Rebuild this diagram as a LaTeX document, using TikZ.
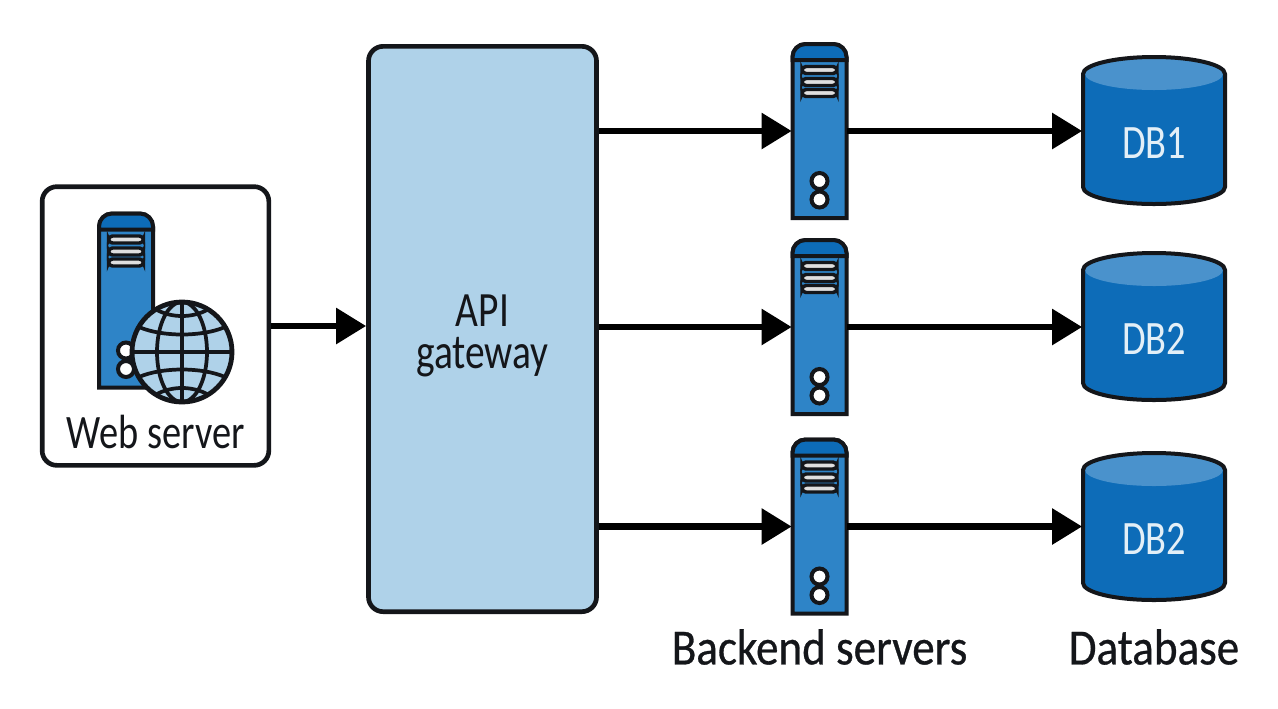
\documentclass[tikz,border=0pt]{standalone}
\usepackage{fontspec}
\setmainfont{Carlito}[FakeStretch=0.8]
\newfontfamily\headfont{Carlito}[FakeStretch=0.89,FakeBold=0.6]
\usetikzlibrary{arrows.meta}
\definecolor{gwblue}{RGB}{175,210,233}
\definecolor{srvblue}{RGB}{46,132,199}
\definecolor{capblue}{RGB}{13,108,184}
\definecolor{dbtop}{RGB}{74,146,204}
\definecolor{inkdark}{RGB}{20,22,26}
\tikzset{every picture/.style={line width=0.75pt},
	box/.style={draw=inkdark,line width=3.5pt,rounded corners=11pt,inner sep=0pt},
	label/.style={font=\fontsize{36}{36}\selectfont,text=inkdark,inner sep=0pt},
	headlabel/.style={font=\headfont\fontsize{38}{38}\selectfont,text=inkdark,inner sep=0pt},
	dblabel/.style={font=\fontsize{36}{36}\selectfont,text=gwblue!35!white,inner sep=0pt},
	link/.style={draw=black,line width=5pt,-{Triangle[length=22.5pt,width=26pt]}},
	outline/.style={draw=inkdark,line width=3pt},
	grid/.style={draw=inkdark,line width=2.8pt}
}
% server tower: name, centre x, centre y
\newcommand{\srvnode}[3]{
	\node[minimum width=41pt,minimum height=131pt,inner sep=0pt] (#1) at (#2,#3) {};
	\begin{scope}[shift={(#2,#3)}]
		\draw[outline,fill=srvblue] (-27,87) -- (-27,-74) arc (180:270:13) -- (14,-87) arc (270:360:13) -- (27,87) -- cycle;
		\draw[outline,fill=capblue] (-27,-71) -- (-27,-74) arc (180:270:13) -- (14,-87) arc (270:360:13) -- (27,-71) -- cycle;
		\foreach \rowy in {-61,-49,-38}
			\draw[draw=inkdark,line width=2.6pt,fill=gray!25!white,rounded corners=3pt] (-17.5,\rowy-3.5) rectangle (17.5,\rowy+3.5);
		\draw[outline,fill=white] (0,50) circle [radius=8];
		\draw[outline,fill=white] (0,68.5) circle [radius=8];
	\end{scope}
}
% database drum: name, centre x, top y, text
\newcommand{\dbnode}[4]{
	\fill[capblue] (#2-71,#3+17) arc (180:360:71 and 17) -- (#2+71,#3+130) arc (0:180:71 and 17) -- cycle;
	\fill[dbtop] (#2,#3+17) ellipse [x radius=69, y radius=16];
	\draw[outline] (#2-71,#3+130) -- (#2-71,#3+17) arc (180:360:71 and 17) -- (#2+71,#3+130) arc (0:180:71 and 17) -- cycle;
	\node[minimum width=107pt,minimum height=110pt,inner sep=0pt] (#1) at (#2,#3+74) {};
	\node[dblabel] (#1text) at (#2,#3+86) {#4};
}
\begin{document}
\begin{tikzpicture}[x=0.75pt,y=0.75pt,yscale=-1,xscale=1]
	\useasboundingbox (0,0) rectangle (1278,708);
	\fill[white] (0,0) rectangle (1278,708);

	%Shape: Web server box
	\node[box,fill=white,minimum width=170pt,minimum height=209pt] (webbox) at (155.5,326) {};
	%Shape: API gateway
	\node[box,fill=gwblue,minimum width=171pt,minimum height=424pt] (gateway) at (482.5,329) {};
	% Text Node
	\node[label,align=center,font=\fontsize{37}{32}\selectfont] (gatewaytext) at (482.5,336) {API\\gateway};

	%Shape: Web server icon
	\srvnode{websrv}{126}{300.5}
	%Shape: Globe
	\node[circle,draw=inkdark,line width=3.6pt,fill=gwblue,minimum size=75pt,inner sep=0pt] (globe) at (182,352) {};
	\begin{scope}[shift={(182,352)}]
		\draw[grid] (-50,0) -- (50,0);
		\draw[grid] (0,-50) -- (0,50);
		\draw[grid] (0,0) ellipse [x radius=25, y radius=50];
		\draw[grid] (-43,-25) .. controls (-20,-15) and (20,-15) .. (43,-25);
		\draw[grid] (-43,25) .. controls (-20,15) and (20,15) .. (43,25);
		\draw[grid] (-25,-42) .. controls (-10,-34) and (10,-34) .. (25,-42);
		\draw[grid] (-25,42) .. controls (-10,34) and (10,34) .. (25,42);
	\end{scope}
	% Text Node
	\node[label] (webtext) at (155.5,432) {Web server};

	%Shape: Backend servers
	\srvnode{srva}{819.5}{131}
	\srvnode{srvb}{819.5}{327}
	\srvnode{srvc}{819.5}{526.5}

	%Shape: Databases
	\dbnode{dba}{1154}{57}{DB1}
	\dbnode{dbb}{1154}{253}{DB2}
	\dbnode{dbc}{1154}{453}{DB2}

	%Straight Lines
	\draw[link] (webbox.east) -- (gateway.west |- webbox.east);
	\foreach \srv/\db in {srva/dba,srvb/dbb,srvc/dbc}{
		\draw[link] (gateway.east |- \srv.west) -- (\srv.west);
		\draw[link] (\srv.east) -- (\db.west |- \srv.east);
	}

	% Text Node
	\node[headlabel] (backendtext) at (819.5,647) {Backend servers};
	\node[headlabel] (dbtext) at (1154,647) {Database};
\end{tikzpicture}
\end{document}
